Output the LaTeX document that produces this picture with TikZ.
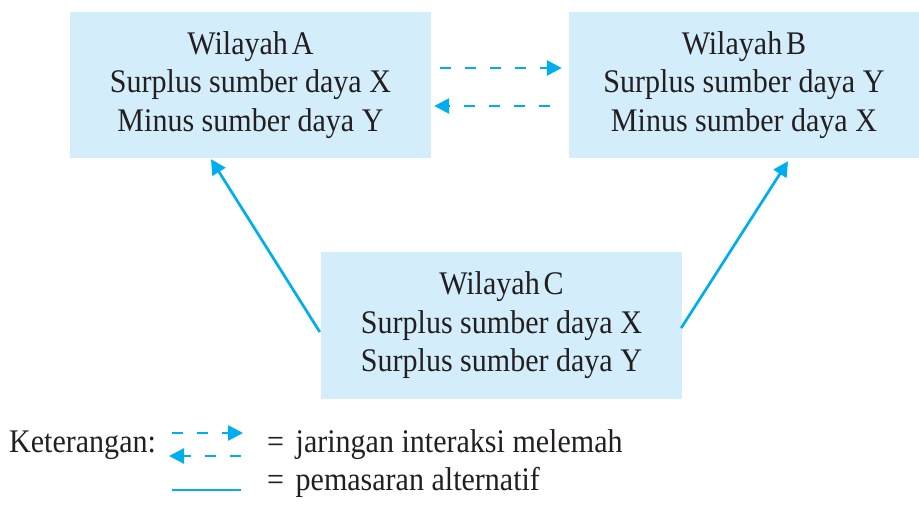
\documentclass[tikz,border=0pt]{standalone}
\usepackage{fontspec}
\setmainfont{Liberation Serif}[FakeStretch=0.91]
\usetikzlibrary{arrows.meta}
\definecolor{boxfill}{RGB}{211,238,250}
\definecolor{linkcol}{RGB}{0,174,239}
\definecolor{inkcol}{RGB}{35,31,32}
\begin{document}
\begin{tikzpicture}[x=1pt,y=1pt,
  every node/.style={text=inkcol},
  region/.style={fill=boxfill, draw=none, inner sep=0pt, align=center,
    font=\fontsize{33}{38.5}\selectfont},
  legendtext/.style={font=\fontsize{33}{38.5}\selectfont, inner sep=0pt, anchor=base west},
  tip/.style={-{Triangle[length=15pt,width=15pt]}},
  weaklink/.style={draw=linkcol, line width=2.7pt, dash pattern=on 11pt off 14pt, tip},
  altlink/.style={draw=linkcol, line width=2.7pt, tip},
  altline/.style={draw=linkcol, line width=2.7pt}]
\useasboundingbox (0,0) rectangle (919,504);

% regions
\node[region, minimum width=361pt, minimum height=146pt] (A) at (250.5,419)
  {Wilayah\hspace{0.12em}A\\Surplus sumber daya X\\Minus sumber daya Y};
\node[region, minimum width=350pt, minimum height=146pt] (B) at (744,419)
  {Wilayah\hspace{0.12em}B\\Surplus sumber daya Y\\Minus sumber daya X};
\node[region, minimum width=361pt, minimum height=147pt] (C) at (501.5,178.5)
  {Wilayah\hspace{0.12em}C\\Surplus sumber daya X\\Surplus sumber daya Y};

% weakening interaction between A and B
\draw[weaklink] ([xshift=9pt,yshift=17pt]A.east) -- ([xshift=-7pt,yshift=17pt]B.west);
\draw[weaklink] ([xshift=-19pt,yshift=-21pt]B.west) -- ([xshift=3pt,yshift=-21pt]A.east);

% alternative marketing from C
\draw[altlink] ([xshift=-1pt,yshift=-6.5pt]C.west) -- ([xshift=-39.5pt,yshift=-1pt]A.south);
\draw[altlink] ([xshift=-1pt,yshift=-2.5pt]C.east) -- ([xshift=44pt,yshift=-3pt]B.south);

% legend
\node[legendtext] (ket) at (9,52) {Keterangan:};
\coordinate (l1a) at (172,71);
\coordinate (l1b) at (243,71);
\coordinate (l2a) at (241,48);
\coordinate (l2b) at (169,48);
\coordinate (l3a) at (172,14);
\coordinate (l3b) at (241,14);
\draw[weaklink] (l1a) -- (l1b);
\draw[weaklink] (l2a) -- (l2b);
\draw[altline] (l3a) -- (l3b);
\node[legendtext] (k1) at (267,52) {=\hspace{0.35em}jaringan interaksi melemah};
\node[legendtext] (k2) at (267,14) {=\hspace{0.35em}pemasaran alternatif};
\end{tikzpicture}
\end{document}
